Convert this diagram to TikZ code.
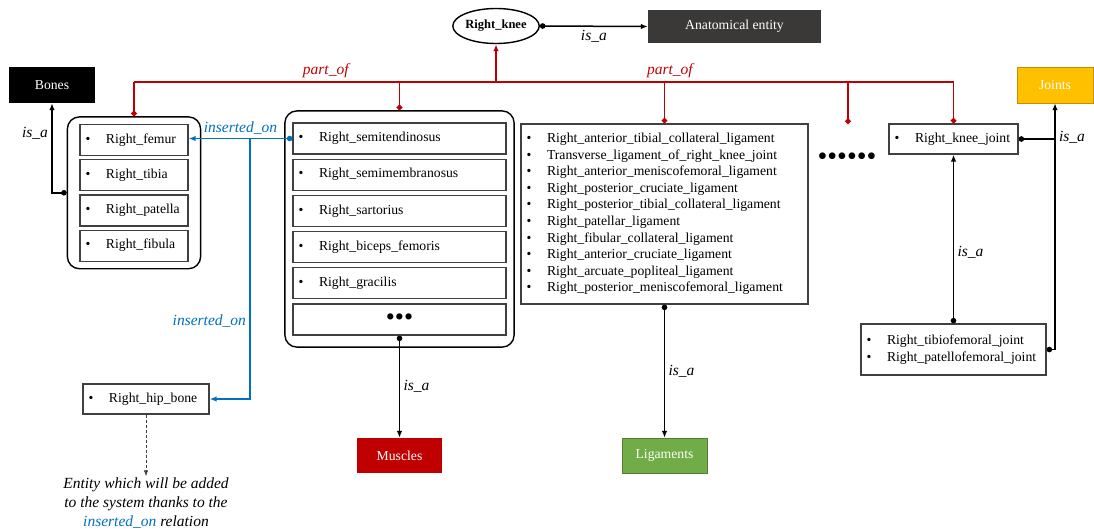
\documentclass[tikz,border=0pt]{standalone}
\usepackage{fontspec}
\setmainfont{Liberation Serif}
\usepackage{xcolor}
\usepackage{tikz}
\usetikzlibrary{shapes.geometric,arrows.meta,positioning,fit}
\definecolor{partred}{RGB}{192,0,0}
\definecolor{insblue}{RGB}{0,112,192}
\definecolor{entgray}{RGB}{59,56,56}
\definecolor{jointgold}{RGB}{255,192,0}
\definecolor{jointedge}{RGB}{191,144,0}
\definecolor{liggreen}{RGB}{112,173,71}
\definecolor{ligedge}{RGB}{80,126,50}
\definecolor{boxgray}{RGB}{64,64,64}
\newcommand{\bul}{\makebox[20.5pt][l]{\textbullet}}

\begin{document}
\begin{tikzpicture}[
  x=1pt, y=-1pt,
  font=\fontsize{13.7}{16.6}\selectfont,
  item/.style={draw=boxgray, line width=1.2pt, minimum height=31pt, text width=#1, align=left, inner xsep=5.5pt, inner ysep=0pt},
  group/.style={draw, line width=1.4pt, rounded corners=12pt},
  cat/.style={fill=#1, text=white, minimum width=85pt, minimum height=35pt, inner sep=0pt},
  lbl/.style={font=\fontsize{15.5}{18}\selectfont\itshape},
  isa/.style={line width=1.5pt, {Circle[length=5.5pt]}-{Latex[length=7pt,width=5.5pt]}},
  partof/.style={partred, line width=1.6pt, {Circle[length=5.5pt]}-},
  ins/.style={insblue, line width=1.5pt, -{Latex[length=7pt,width=5.5pt]}}
]
  \useasboundingbox (0,0) rectangle (1094,528);

  % top: the whole and its class
  \node[ellipse, draw, line width=1.4pt, minimum width=86pt, minimum height=35pt, inner sep=0pt,
        font=\fontsize{12.5}{14}\selectfont\bfseries] (knee) at (496,26) {Right\_knee};
  \node[cat=entgray, minimum width=173pt, minimum height=33pt] (anat) at (734.5,26.5) {Anatomical entity};

  % classes
  \node[cat=black, minimum width=86pt, minimum height=36pt] (bones) at (52,85) {Bones};
  \node[cat=jointgold, draw=jointedge, minimum width=76pt, minimum height=36pt] (joints) at (1055,85) {Joints};
  \node[cat=partred] (muscles) at (399.5,455.5) {Muscles};
  \node[cat=liggreen, draw=ligedge] (ligam) at (664.5,455.5) {Ligaments};

  % bones
  \node[item=97pt] (femur) at (134,140) {\bul Right\_femur};
  \node[item=97pt, below=3pt of femur] (tibia) {\bul Right\_tibia};
  \node[item=97pt, below=3pt of tibia] (patella) {\bul Right\_patella};
  \node[item=97pt, below=3pt of patella] (fibula) {\bul Right\_fibula};
  \node[group, fit=(femur)(fibula), inner xsep=12pt, inner ysep=7pt] (bonegrp) {};

  % muscles
  \node[item=202pt] (semiten) at (399.5,138.5) {\bul Right\_semitendinosus};
  \node[item=202pt, below=4pt of semiten] (semimem) {\bul Right\_semimembranosus};
  \node[item=202pt, below=4pt of semimem] (sartor) {\bul Right\_sartorius};
  \node[item=202pt, below=4pt of sartor] (biceps) {\bul Right\_biceps\_femoris};
  \node[item=202pt, below=4pt of biceps] (gracil) {\bul Right\_gracilis};
  \node[item=202pt, align=center, below=4pt of gracil, font=\fontsize{26}{26}\selectfont] (mdots) {\textbullet\textbullet\textbullet};
  \node[group, fit=(semiten)(mdots), inner xsep=7.5pt, inner ysep=11.5pt] (musgrp) {};

  % ligaments
  \node[item=276pt, minimum height=180pt] (ligs) at (664.5,214) {%
    \bul Right\_anterior\_tibial\_collateral\_ligament\\
    \bul Transverse\_ligament\_of\_right\_knee\_joint\\
    \bul Right\_anterior\_meniscofemoral\_ligament\\
    \bul Right\_posterior\_cruciate\_ligament\\
    \bul Right\_posterior\_tibial\_collateral\_ligament\\
    \bul Right\_patellar\_ligament\\
    \bul Right\_fibular\_collateral\_ligament\\
    \bul Right\_anterior\_cruciate\_ligament\\
    \bul Right\_arcuate\_popliteal\_ligament\\
    \bul Right\_posterior\_meniscofemoral\_ligament};

  % other parts
  \node[font=\fontsize{28}{28}\selectfont, inner sep=0pt] (more) at (847,159) {\textbullet\textbullet\textbullet\textbullet\textbullet\textbullet};
  \coordinate (moretop) at (848,124);

  % joints
  \node[item=118pt, minimum height=30pt] (kjoint) at (953.5,139) {\bul Right\_knee\_joint};
  \node[item=174pt, minimum height=51pt] (tibio) at (953.5,349.5) {%
    \bul Right\_tibiofemoral\_joint\\
    \bul Right\_patellofemoral\_joint};

  % new entity
  \node[item=115pt, minimum height=30pt] (hip) at (146,399) {\bul Right\_hip\_bone};
  \node[lbl, font=\fontsize{15.5}{19}\selectfont\itshape, align=center, inner sep=1pt] (note) at (146,503)
    {Entity which will be added\\ to the system thanks to the\\ \textcolor{insblue}{inserted\_on} relation};

  % part_of
  \coordinate (bus) at (0,82);
  \draw[partred, line width=1.6pt] (bonegrp.north |- bus) -- (kjoint.north |- bus)
    node[lbl, text=partred, above, pos=0.234] {part\_of}
    node[lbl, text=partred, above, pos=0.654] {part\_of};
  \foreach \n in {bonegrp, musgrp, ligs, kjoint}
    \draw[partof] (\n.north) -- (\n.north |- bus);
  \draw[partof] (moretop) -- (moretop |- bus);
  \draw[partred, line width=1.6pt, -{Latex[length=7pt,width=5.5pt]}] (knee.south |- bus) -- (knee.south);

  % is_a
  \draw[isa] (knee.east) -- (anat.west) node[lbl, below, midway] {is\_a};
  \draw[isa] (bonegrp.west) -| (bones.south) node[lbl, left, pos=0.83] {is\_a};
  \draw[isa] (mdots.south) -- (muscles.north) node[lbl, right, midway] {is\_a};
  \draw[isa] (ligs.south) -- (ligam.north) node[lbl, right, midway] {is\_a};
  \draw[isa] (tibio.north) -- (kjoint.south) node[lbl, right, pos=0.42] {is\_a};
  \draw[isa] (tibio.east) -| (joints.south) node[lbl, right, pos=0.93] {is\_a};
  \draw[line width=1.5pt, {Circle[length=5.5pt]}-] (kjoint.east) -- (kjoint.east -| joints.south);

  % inserted_on
  \coordinate (blueknot) at (250,139);
  \draw[ins, {Circle[length=5.5pt]}-{Latex[length=7pt,width=5.5pt]}] (semiten.west) -- (semiten.west -| femur.east)
    node[lbl, text=insblue, above, midway] {inserted\_on};
  \draw[ins] (blueknot) |- (hip.east) node[lbl, text=insblue, left, pos=0.35] {inserted\_on};
  \draw[boxgray, densely dashed, line width=0.9pt, -{Latex[length=6pt,width=4.5pt]}] (hip.south) -- (note.north);
\end{tikzpicture}
\end{document}
